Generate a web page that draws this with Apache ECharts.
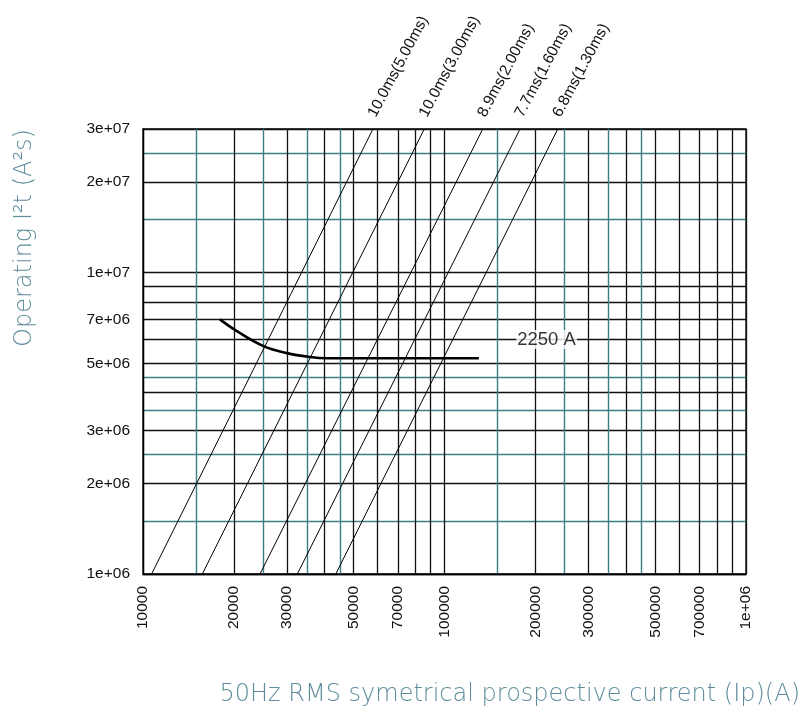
<!DOCTYPE html>
<html><head><meta charset="utf-8">
<script src="https://cdn.jsdelivr.net/npm/echarts@6/dist/echarts.min.js"></script>
<style>html,body{margin:0;padding:0;background:#fff}#c{width:808px;height:708px}</style>
</head><body><div id="c"></div>
<script>
// ---- data ----
const xMajorLines = [10000,20000,30000,40000,50000,60000,70000,80000,90000,100000,200000,300000,400000,500000,600000,700000,800000,900000,1000000];
const xMinorLines = [15000,25000,35000,45000,150000,250000,350000,450000];
const yMajorLines = [1e6,2e6,3e6,4e6,5e6,6e6,7e6,8e6,9e6,1e7,2e7,3e7];
const yMinorLines = [1.5e6,2.5e6,3.5e6,4.5e6,1.5e7,2.5e7];
const xTickValues = [10000,20000,30000,50000,70000,100000,200000,300000,500000,700000,1000000];
const xTickLabels = ['10000','20000','30000','50000','70000','100000','200000','300000','500000','700000','1e+06'];
const yTickValues = [1e6,2e6,3e6,5e6,7e6,1e7,2e7,3e7];
const yTickLabels = ['1e+06','2e+06','3e+06','5e+06','7e+06','1e+07','2e+07','3e+07'];
const lineNames = ['10.0ms(5.00ms)','10.0ms(3.00ms)','8.9ms(2.00ms)','7.7ms(1.60ms)','6.8ms(1.30ms)'];
const lineI2t = [1e6, 3e7];
const lineCurrentLow = [10680,15730,24440,32500,43600];
const lineCurrentHigh = [57900,85700,133900,178000,237500];
const curveCurrent = [18000,20000,25000,30000,35800,40700,130000];
const curveI2t = [7.0e6,6.5e6,5.72e6,5.41e6,5.25e6,5.2e6,5.2e6];
const curveLabel = '2250 A';
const curveLabelCurrent = 218000;
const curveLabelI2t = 6e6;
const xName = '50Hz RMS symetrical prospective current (Ip)(A)';
const yName = 'Operating I\u00B2t (A\u00B2s)';

// ---- chart ----
const BLACK = '#111';
const TEAL = '#3d7d87';
const NAMEC = '#5f8c9c';
const tickFont = 'Liberation Sans, Arial, sans-serif';
function lookup(vals, labels){
  return function(v){
    for (let i=0;i<vals.length;i++){ if (Math.abs(v-vals[i])/vals[i] < 1e-6) return labels[i]; }
    return '';
  };
}
const chart = echarts.init(document.getElementById('c'), null, {renderer:'canvas'});
const series = [];
lineNames.forEach((nm,i)=>{
  series.push({
    type:'line', name:nm, xAxisIndex:0, yAxisIndex:0,
    showSymbol:true, symbol:'circle', symbolSize:0, silent:true,
    lineStyle:{color:'#000', width:1},
    label:{show:false},
    data:[
      [lineCurrentLow[i], lineI2t[0]],
      {value:[lineCurrentHigh[i], lineI2t[1]], label:{
        show:true, position:[0,0], align:'left', verticalAlign:'middle',
        rotate:62, offset:[11,-7], formatter:nm,
        fontSize:15.5, fontFamily:tickFont, color:'#111'}}
    ],
    z:3
  });
});
series.push({
  type:'line', name:'curve', xAxisIndex:0, yAxisIndex:0, showSymbol:false, smooth:0.4, silent:true,
  lineStyle:{color:'#000', width:2.6},
  data: curveCurrent.map((c,i)=>[c, curveI2t[i]]), z:4
});
series.push({
  type:'scatter', name:'label', xAxisIndex:0, yAxisIndex:0, symbolSize:0, silent:true,
  label:{show:true, position:'inside', formatter:curveLabel, fontSize:18.5, fontFamily:tickFont,
    color:'#000', backgroundColor:'#fff', padding:[0,1], lineHeight:19},
  data:[[curveLabelCurrent, curveLabelI2t]], z:5
});

const option = {
  animation:false,
  backgroundColor:'#fff',
  grid:{left:143, right:62, top:129, bottom:134, show:true, borderColor:'#000', borderWidth:1.3, outerBoundsMode:'none', containLabel:false},
  xAxis:[
    {type:'log', logBase:10, min:10000, max:1000000, position:'bottom',
     axisLine:{show:true, lineStyle:{color:'#000', width:1.3}},
     axisTick:{show:false, customValues:xMajorLines},
     axisLabel:{customValues:xTickValues, formatter:lookup(xTickValues,xTickLabels), rotate:90, margin:12,
       fontSize:15.5, fontFamily:tickFont, color:'#111', hideOverlap:false, showMinLabel:true, showMaxLabel:true},
     splitLine:{show:true, lineStyle:{color:BLACK, width:1.3}},
     name:xName, nameLocation:'end', nameGap:54, nameMoveOverlap:false,
     nameTextStyle:{align:'right', verticalAlign:'top', padding:[109,0,0,0], fontSize:24, fontFamily:'DejaVu Sans', fontWeight:200, color:NAMEC}
    },
    {type:'log', logBase:10, min:10000, max:1000000, position:'top',
     axisLine:{show:false}, axisTick:{show:false, customValues:xMinorLines}, axisLabel:{show:false},
     splitLine:{show:true, lineStyle:{color:TEAL, width:1.4}}
    }
  ],
  yAxis:[
    {type:'log', logBase:10, min:1e6, max:3e7, position:'left',
     axisLine:{show:true, lineStyle:{color:'#000', width:1.3}},
     axisTick:{show:false, customValues:yMajorLines},
     axisLabel:{customValues:yTickValues, formatter:lookup(yTickValues,yTickLabels), margin:13,
       fontSize:15.5, fontFamily:tickFont, color:'#111', hideOverlap:false, showMinLabel:true, showMaxLabel:true},
     splitLine:{show:true, lineStyle:{color:BLACK, width:1.3}},
     name:yName, nameLocation:'middle', nameGap:106, nameRotate:90, nameMoveOverlap:false,
     nameTextStyle:{padding:[0,0,0,227], fontSize:24, fontFamily:'DejaVu Sans', fontWeight:200, color:NAMEC}
    },
    {type:'log', logBase:10, min:1e6, max:3e7, position:'right',
     axisLine:{show:false}, axisTick:{show:false, customValues:yMinorLines}, axisLabel:{show:false},
     splitLine:{show:true, lineStyle:{color:TEAL, width:1.4}}
    }
  ],
  series: series
};
chart.setOption(option);
</script></body></html>
